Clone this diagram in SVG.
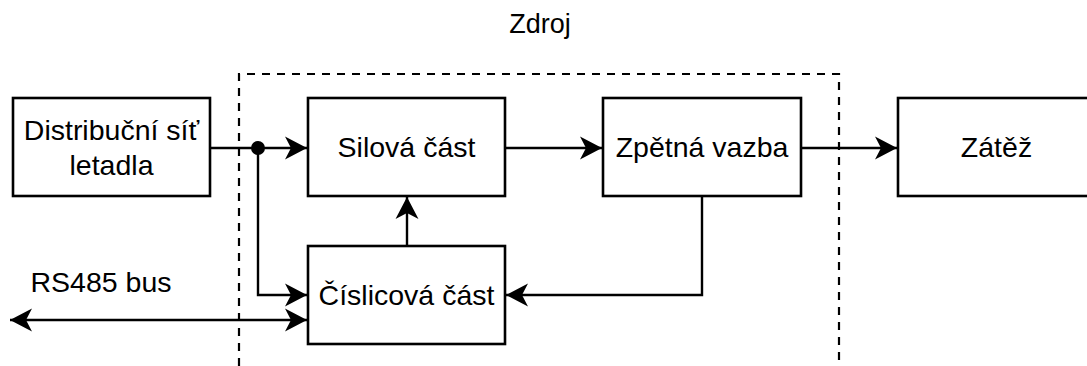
<svg xmlns="http://www.w3.org/2000/svg" width="1087" height="366" viewBox="0 0 1087 366">
  <style>
    .box { fill: #ffffff; stroke: #000000; stroke-width: 2.6; }
    .lbl { font-family: "Liberation Sans", Arial, sans-serif; font-size: 28.5px; fill: #000000; text-anchor: middle; }
    .title { font-size: 27px; }
    .wire { fill: none; stroke: #000000; stroke-width: 2.4; }
    .frame { fill: none; stroke: #000000; stroke-width: 2.2; stroke-dasharray: 8 7; }
  </style>
  <defs>
    <marker id="arrow" viewBox="-23 -12 24 24" refX="0" refY="0" markerWidth="24" markerHeight="24" markerUnits="userSpaceOnUse" orient="auto-start-reverse">
      <path d="M0,0 L-22,-11.5 L-16,0 L-22,11.5 Z" fill="#000000"/>
    </marker>
  </defs>

  <!-- power supply boundary -->
  <g id="zdroj">
    <path class="frame" d="M239,366 V74 H839 V366"/>
    <text class="lbl title" x="540" y="33">Zdroj</text>
  </g>

  <g id="distribucni-sit">
    <rect class="box" x="13" y="98" width="197" height="98"/>
    <text class="lbl" x="111.5" y="140">Distribuční síť</text>
    <text class="lbl" x="111.5" y="175">letadla</text>
  </g>

  <g id="silova-cast">
    <rect class="box" x="308" y="98" width="197" height="98"/>
    <text class="lbl" x="406.5" y="157">Silová část</text>
  </g>

  <g id="zpetna-vazba">
    <rect class="box" x="603" y="98" width="198" height="98"/>
    <text class="lbl" x="702" y="157">Zpětná vazba</text>
  </g>

  <g id="zatez">
    <rect class="box" x="898" y="98" width="197" height="98"/>
    <text class="lbl" x="996.5" y="157">Zátěž</text>
  </g>

  <g id="cislicova-cast">
    <rect class="box" x="308" y="246" width="197" height="98"/>
    <text class="lbl" x="406.5" y="305">Číslicová část</text>
  </g>

  <g id="rs485-label">
    <text class="lbl" x="101" y="292">RS485 bus</text>
  </g>

  <g id="connectors">
    <path class="wire" d="M210,148 H307" marker-end="url(#arrow)"/>
    <circle cx="258" cy="148" r="7" fill="#000000"/>
    <path class="wire" d="M258,148 V295 H307" marker-end="url(#arrow)"/>
    <path class="wire" d="M505,148 H602" marker-end="url(#arrow)"/>
    <path class="wire" d="M801,148 H897" marker-end="url(#arrow)"/>
    <path class="wire" d="M407,246 V197" marker-end="url(#arrow)"/>
    <path class="wire" d="M702,196 V295 H506" marker-end="url(#arrow)"/>
    <path class="wire" d="M10,320 H307" marker-start="url(#arrow)" marker-end="url(#arrow)"/>
  </g>
</svg>
